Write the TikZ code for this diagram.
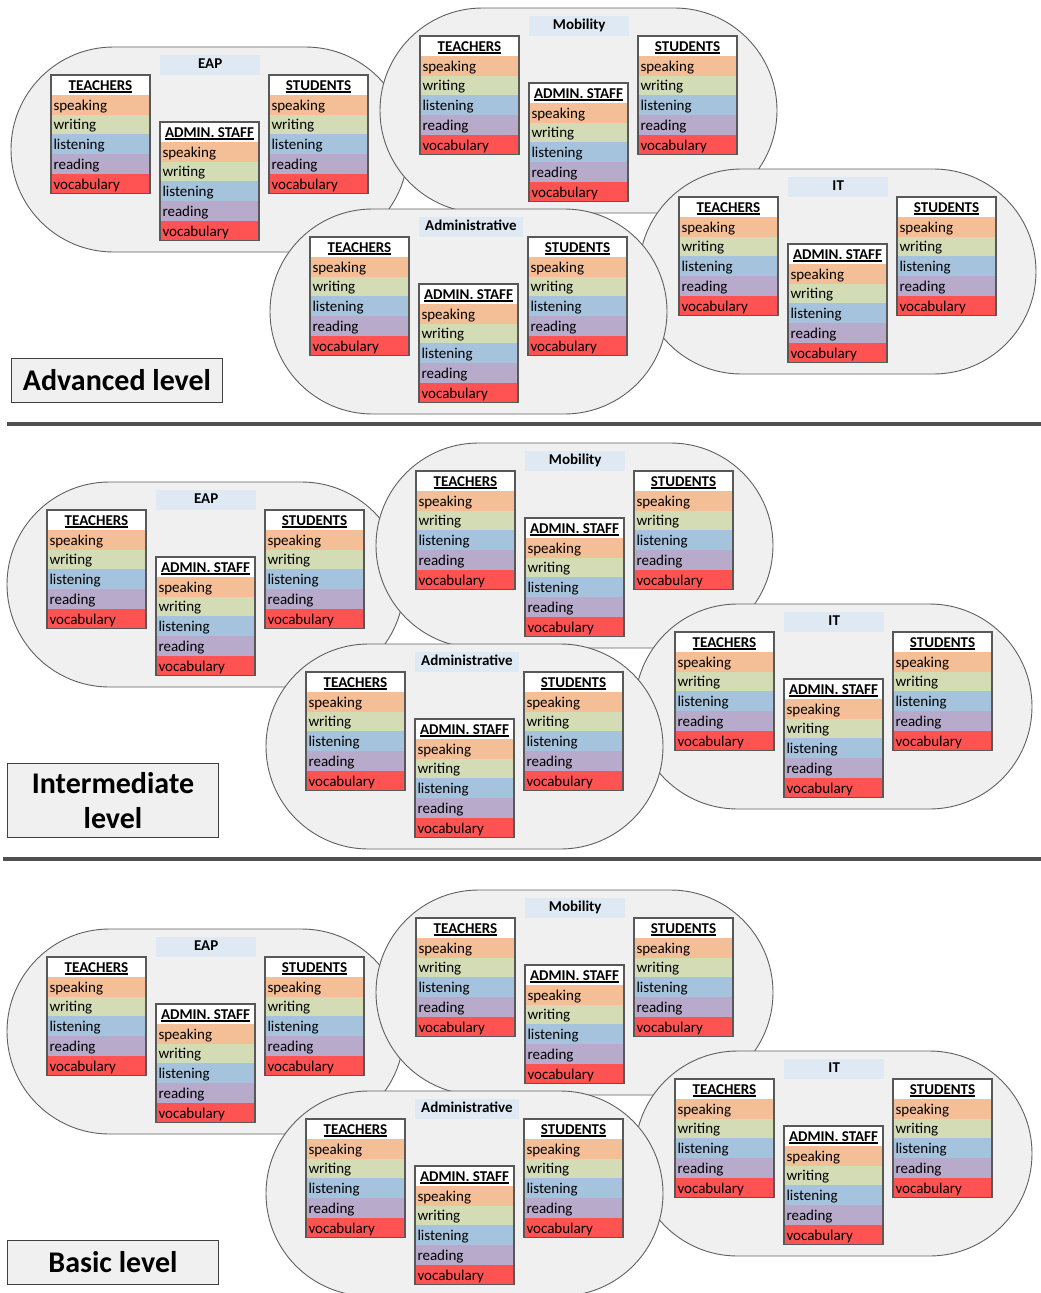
\documentclass[tikz,border=0pt]{standalone}
\usepackage{fontspec}
\setmainfont{Carlito}
\usetikzlibrary{positioning,shapes.misc}

\definecolor{blobfill}{HTML}{F0F0F0}
\definecolor{blobline}{HTML}{606060}
\definecolor{titlefill}{HTML}{DFE9F3}
\definecolor{frameline}{HTML}{585858}
\definecolor{speakcol}{HTML}{F4BE96}
\definecolor{writecol}{HTML}{D4DCB6}
\definecolor{listencol}{HTML}{A6C3DE}
\definecolor{readcol}{HTML}{B7AACB}
\definecolor{vocabcol}{HTML}{FF5353}
\definecolor{divline}{HTML}{505050}

\newcommand{\ulhead}[1]{\setbox0\hbox{#1}\rlap{\rule[-2.4pt]{\wd0}{1.4pt}}\box0}

\newcommand{\skilltable}[3]{%
  \node[tabhead] (#1) at (#2) {\ulhead{#3}};
  \node[tabrow, fill=speakcol, below=0pt of #1] (#1-1) {speaking};
  \node[tabrow, fill=writecol, below=0pt of #1-1] (#1-2) {writing};
  \node[tabrow, fill=listencol, below=0pt of #1-2] (#1-3) {listening};
  \node[tabrow, fill=readcol, below=0pt of #1-3] (#1-4) {reading};
  \node[tabrow, fill=vocabcol, below=0pt of #1-4] (#1-5) {vocabulary};
  \draw[tabframe] (#1.north west) rectangle (#1-5.south east);
}

\newcommand{\skillgroup}[3]{%
  \begin{scope}[shift={(#2)}]
    \node[blob] (#1) at (0,0) {};
    \node[grouptitle] (#1-title) at (-49.5,-94.5) {#3};
    \skilltable{#1-tea}{-158.5,-74.5}{TEACHERS}
    \skilltable{#1-adm}{-49.5,-27.5}{ADMIN. STAFF}
    \skilltable{#1-stu}{59.5,-74.5}{STUDENTS}
  \end{scope}
}

\begin{document}
\begin{tikzpicture}[x=1pt, y=-1pt,
    blob/.style = {draw=blobline, line width=0.9pt, fill=blobfill, rounded rectangle,
      minimum width=397pt, minimum height=205pt, inner sep=0pt},
    grouptitle/.style = {fill=titlefill, anchor=north west, font=\bfseries\fontsize{15}{18}\selectfont,
      minimum width=100pt, minimum height=20pt, inner xsep=6pt, inner ysep=0pt,
      text height=10.5pt, text depth=3pt},
    tabhead/.style = {fill=white, anchor=north west, font=\bfseries\fontsize{15}{18}\selectfont,
      minimum width=99pt, minimum height=19.75pt, inner sep=0pt, outer sep=0pt,
      text height=14pt, text depth=3pt},
    tabrow/.style = {font=\fontsize{15}{18}\selectfont, text width=94pt, align=left,
      inner xsep=2.5pt, inner ysep=0pt, outer sep=0pt, minimum height=19.75pt,
      text height=14pt, text depth=3pt},
    tabframe/.style = {draw=frameline, line width=1.6pt},
    levelbox/.style = {draw=black!75, line width=1pt, fill=blobfill, anchor=south west,
      minimum width=211pt, minimum height=44pt, inner ysep=9pt, align=center,
      font=\bfseries\fontsize{30}{35}\selectfont},
    divider/.style = {draw=divline, line width=3.5pt}]
  \useasboundingbox (0,0) rectangle (1041,1293);

  \foreach \lev/\dx/\dy/\lab in {adv/0/0/{Advanced level}, int/-4/435/{Intermediate\\level}, bas/-4/882/{Basic level}} {
    \begin{scope}[shift={(\dx,\dy)}]
      \skillgroup{\lev-eap}{209.5,149.5}{EAP}
      \skillgroup{\lev-mob}{578.5,110.5}{Mobility}
      \skillgroup{\lev-it}{837.5,271.5}{IT}
      \skillgroup{\lev-adm}{468.5,311.5}{Administrative}
      \node[levelbox] (\lev-label) at (11,403) {\lab};
    \end{scope}
  }

  \draw[divider] (7,424) -- (1045,424);
  \draw[divider] (3,859) -- (1045,859);
\end{tikzpicture}
\end{document}
